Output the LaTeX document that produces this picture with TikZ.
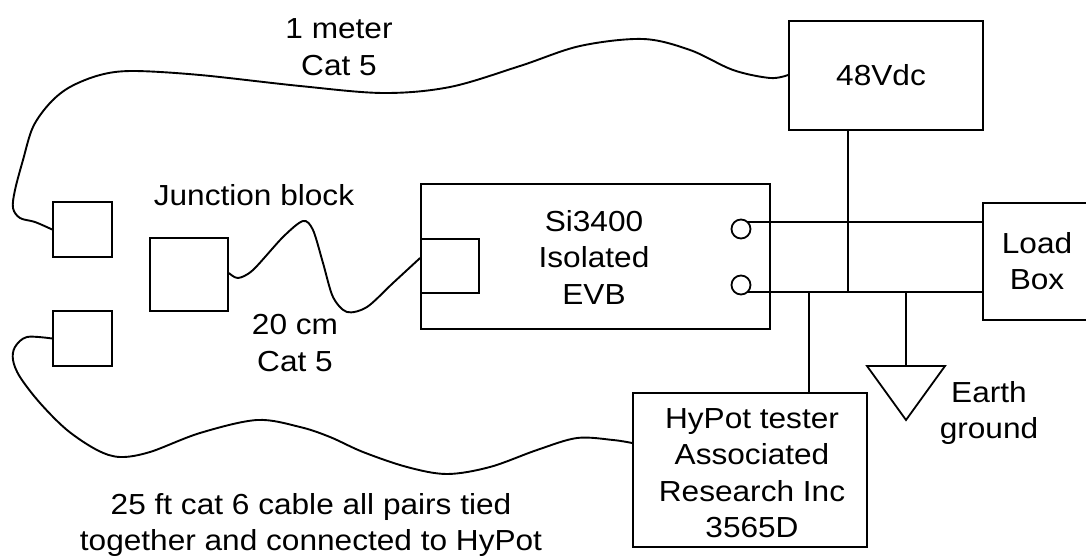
\documentclass[tikz,border=0pt]{standalone}
\usepackage{fontspec}
\setmainfont{Liberation Sans}[FakeStretch=1.09]
\begin{document}
\begin{tikzpicture}[x=1pt,y=-1pt,line width=1.8pt,
  box/.style={draw,line width=1.8pt,inner sep=0pt},
  lbl/.style={align=center,inner sep=0pt,font=\fontsize{29}{36.5}\selectfont},
  port/.style={draw,circle,line width=1.8pt,minimum size=19pt,inner sep=0pt},
  cable/.style={line width=1.9pt}]
\useasboundingbox (0,0) rectangle (1086,556);
\clip (0,0) rectangle (1086,556);
% boxes
\node[box,minimum width=194pt,minimum height=109pt] (psu) at (886,75.5) {};
\node[lbl] (psut) at (881,75.5) {48Vdc};
\node[box,minimum width=59pt,minimum height=55pt] (b1) at (82.5,229.5) {};
\node[box,minimum width=59pt,minimum height=55pt] (b2) at (82.5,338.5) {};
\node[box,minimum width=78pt,minimum height=73pt] (jb) at (189,274.5) {};
\node[box,minimum width=349pt,minimum height=145pt] (evb) at (595.5,256.5) {};
\node[box,minimum width=58pt,minimum height=54pt] (conn) at (450,266) {};
\node[lbl] (evbt) at (594,257) {Si3400\\Isolated\\EVB};
\node[port] (c1) at (741,229) {};
\node[port] (c2) at (741,285) {};
\node[box,minimum width=108pt,minimum height=117pt] (load) at (1037,261.5) {};
\node[lbl] (loadt) at (1037,261) {Load\\Box};
\node[box,minimum width=234pt,minimum height=154pt] (hypot) at (750,470) {};
\node[lbl] (hypott) at (752,473) {HyPot tester\\Associated\\Research Inc\\3565D};
% labels
\node[lbl] (l1) at (339,47) {1 meter\\Cat 5};
\node[lbl] (ljb) at (254,195) {Junction block};
\node[lbl] (l20) at (295,343) {20 cm\\Cat 5};
\node[lbl] (l25) at (311,525) {25 ft cat 6 cable all pairs tied\\together and connected to HyPot};
\node[lbl] (learth) at (989,413) {Earth\\ground};
% wiring
\coordinate (j1) at (848,293);
\coordinate (j2) at (809,293);
\coordinate (j3) at (906,293);
\coordinate (gnd) at (906,366);
\draw (c1.north east) -- (c1.north east -| load.west);
\draw (c2.south east) -- (c2.south east -| load.west);
\draw (j1 |- psu.south) -- (j1);
\draw (j2) -- (j2 |- hypot.north);
\draw (j3) -- (gnd);
\draw[line join=miter] (gnd) ++(-39,0) -- ++(78,0) -- (906,420) -- cycle;
% cables
\draw[cable] plot[smooth,tension=0.55] coordinates {(b1.west) (35,222) (20,218) (13,208) (15,190) (23,160) (33,127) (50,103) (70,87) (100,75) (133,71) (200,75) (300,86) (383,93) (450,87) (520,66) (580,46) (643,39) (690,50) (733,70) (770,78) (psu.west |- 0,75)};
\draw[cable] plot[smooth,tension=0.55] coordinates {(b2.west) (27,337) (15,347) (13,360) (20,377) (40,403) (67,430) (97,450) (120,457) (150,452) (200,433) (257,420) (300,427) (330,437) (363,452) (407,467) (447,474) (490,467) (537,450) (577,438) (613,440) (hypot.west |- 0,443)};
\draw[cable] plot[smooth,tension=0.5] coordinates {(jb.east |- 0,273) (238,278) (253,270) (283,237) (303,221) (313,230) (323,263) (333,297) (347,312) (367,307) (393,283) (conn.west |- 0,258)};
\end{tikzpicture}
\end{document}
